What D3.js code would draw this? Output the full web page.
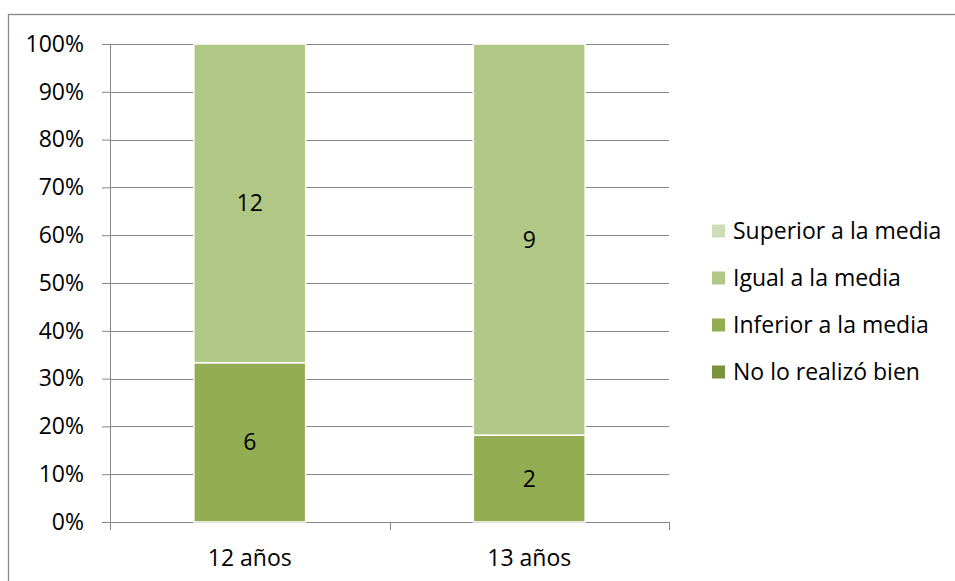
<!DOCTYPE html>
<html>
<head>
<meta charset="utf-8">
<script src="https://cdn.jsdelivr.net/npm/d3@7"></script>
<style>
  html, body { margin: 0; padding: 0; background: #fff; }
  svg { display: block; font-family: "Open Sans", Lato, sans-serif; }
</style>
</head>
<body>
<svg id="chart" width="955" height="581"></svg>
<script>
// Age groups on the x axis
const categories = ["12 años", "13 años"];
// Result levels, bottom to top of each stack
const seriesNames = ["No lo realizó bien", "Inferior a la media", "Igual a la media", "Superior a la media"];
// Counts per level for each age group
const noRealizo = [0, 0];
const inferior = [6, 2];
const igual = [12, 9];
const superior = [0, 0];
const yTicks = [0, 0.1, 0.2, 0.3, 0.4, 0.5, 0.6, 0.7, 0.8, 0.9, 1];

const colors = ["#77933c", "#93ad52", "#b0c786", "#cfdcb8"];
const FONT = 23;

const svg = d3.select("#chart");
const margin = { left: 110, top: 44, right: 286, bottom: 59 };
const W = 955, H = 581;
const plotW = W - margin.left - margin.right;
const plotH = H - margin.top - margin.bottom;

// outer chart frame
svg.append("rect")
  .attr("x", 8.5).attr("y", 14.5)
  .attr("width", 960).attr("height", 600)
  .attr("fill", "none").attr("stroke", "#888").attr("stroke-width", 1.3);

const rows = categories.map((c, i) => ({
  cat: c,
  "No lo realizó bien": noRealizo[i],
  "Inferior a la media": inferior[i],
  "Igual a la media": igual[i],
  "Superior a la media": superior[i]
}));

const stacked = d3.stack()
  .keys(seriesNames)
  .offset(d3.stackOffsetExpand)(rows);

const x = d3.scaleBand().domain(categories).range([0, plotW]).paddingInner(0.6).paddingOuter(0.3);
const y = d3.scaleLinear().domain([0, 1]).range([plotH, 0]);

const g = svg.append("g").attr("transform", `translate(${margin.left},${margin.top})`);

// horizontal gridlines
g.append("g").selectAll("line").data(yTicks.slice(1)).join("line")
  .attr("x1", 0).attr("x2", plotW)
  .attr("y1", d => Math.round(y(d)) + 0.5).attr("y2", d => Math.round(y(d)) + 0.5)
  .attr("stroke", "#868686").attr("stroke-width", 1);

// y axis
const yAxis = g.append("g")
  .call(d3.axisLeft(y).tickValues(yTicks).tickFormat(d3.format(".0%")).tickSize(8).tickSizeOuter(0));
yAxis.select(".domain").attr("stroke", "#868686");
yAxis.selectAll(".tick line").attr("stroke", "#868686");
yAxis.selectAll(".tick text").attr("font-size", FONT).attr("fill", "#000").attr("x", -26)
  .style("font-family", "'Open Sans', Lato, sans-serif");

// x axis with ticks at category boundaries
const xAxisG = g.append("g").attr("transform", `translate(0,${plotH})`);
xAxisG.append("line").attr("x1", 0).attr("x2", plotW).attr("y1", 0.5).attr("y2", 0.5)
  .attr("stroke", "#868686");
const step = plotW / categories.length;
d3.range(categories.length + 1).forEach(i => {
  xAxisG.append("line")
    .attr("x1", Math.round(i * step) + 0.5).attr("x2", Math.round(i * step) + 0.5)
    .attr("y1", 0).attr("y2", 8).attr("stroke", "#868686");
});
xAxisG.selectAll("text.cat").data(categories).join("text")
  .attr("class", "cat")
  .attr("x", d => x(d) + x.bandwidth() / 2)
  .attr("y", 36)
  .attr("dy", "0.35em")
  .attr("text-anchor", "middle")
  .attr("font-size", FONT)
  .attr("fill", "#000")
  .text(d => d);

// stacked bars
const layers = g.append("g").selectAll("g").data(stacked).join("g")
  .attr("fill", (d, i) => colors[i]);

layers.selectAll("rect").data(d => d.map(v => ({ v, key: d.key }))).join("rect")
  .filter(d => d.v[1] - d.v[0] > 0)
  .attr("x", d => x(d.v.data.cat))
  .attr("y", d => y(d.v[1]))
  .attr("width", x.bandwidth())
  .attr("height", d => y(d.v[0]) - y(d.v[1]))
  .attr("stroke", "#fff").attr("stroke-width", 1.5);

// value labels
layers.selectAll("text").data(d => d.map(v => ({ v, key: d.key }))).join("text")
  .filter(d => d.v.data[d.key] > 0)
  .attr("x", d => x(d.v.data.cat) + x.bandwidth() / 2)
  .attr("y", d => (y(d.v[0]) + y(d.v[1])) / 2)
  .attr("dy", "0.35em")
  .attr("text-anchor", "middle")
  .attr("font-size", FONT)
  .attr("fill", "#000")
  .text(d => d.v.data[d.key]);

// legend, top entry is the top series
const legend = svg.append("g").attr("transform", "translate(712,231)");
const legendOrder = seriesNames.slice().reverse();
legendOrder.forEach((name, i) => {
  const row = legend.append("g").attr("transform", `translate(0,${i * 47})`);
  row.append("rect").attr("x", 0).attr("y", -6.5).attr("width", 13).attr("height", 13)
    .attr("fill", colors[seriesNames.indexOf(name)]);
  row.append("text").attr("x", 21).attr("y", 0).attr("dy", "0.35em")
    .attr("font-size", FONT).attr("fill", "#000").text(name);
});
</script>
</body>
</html>
